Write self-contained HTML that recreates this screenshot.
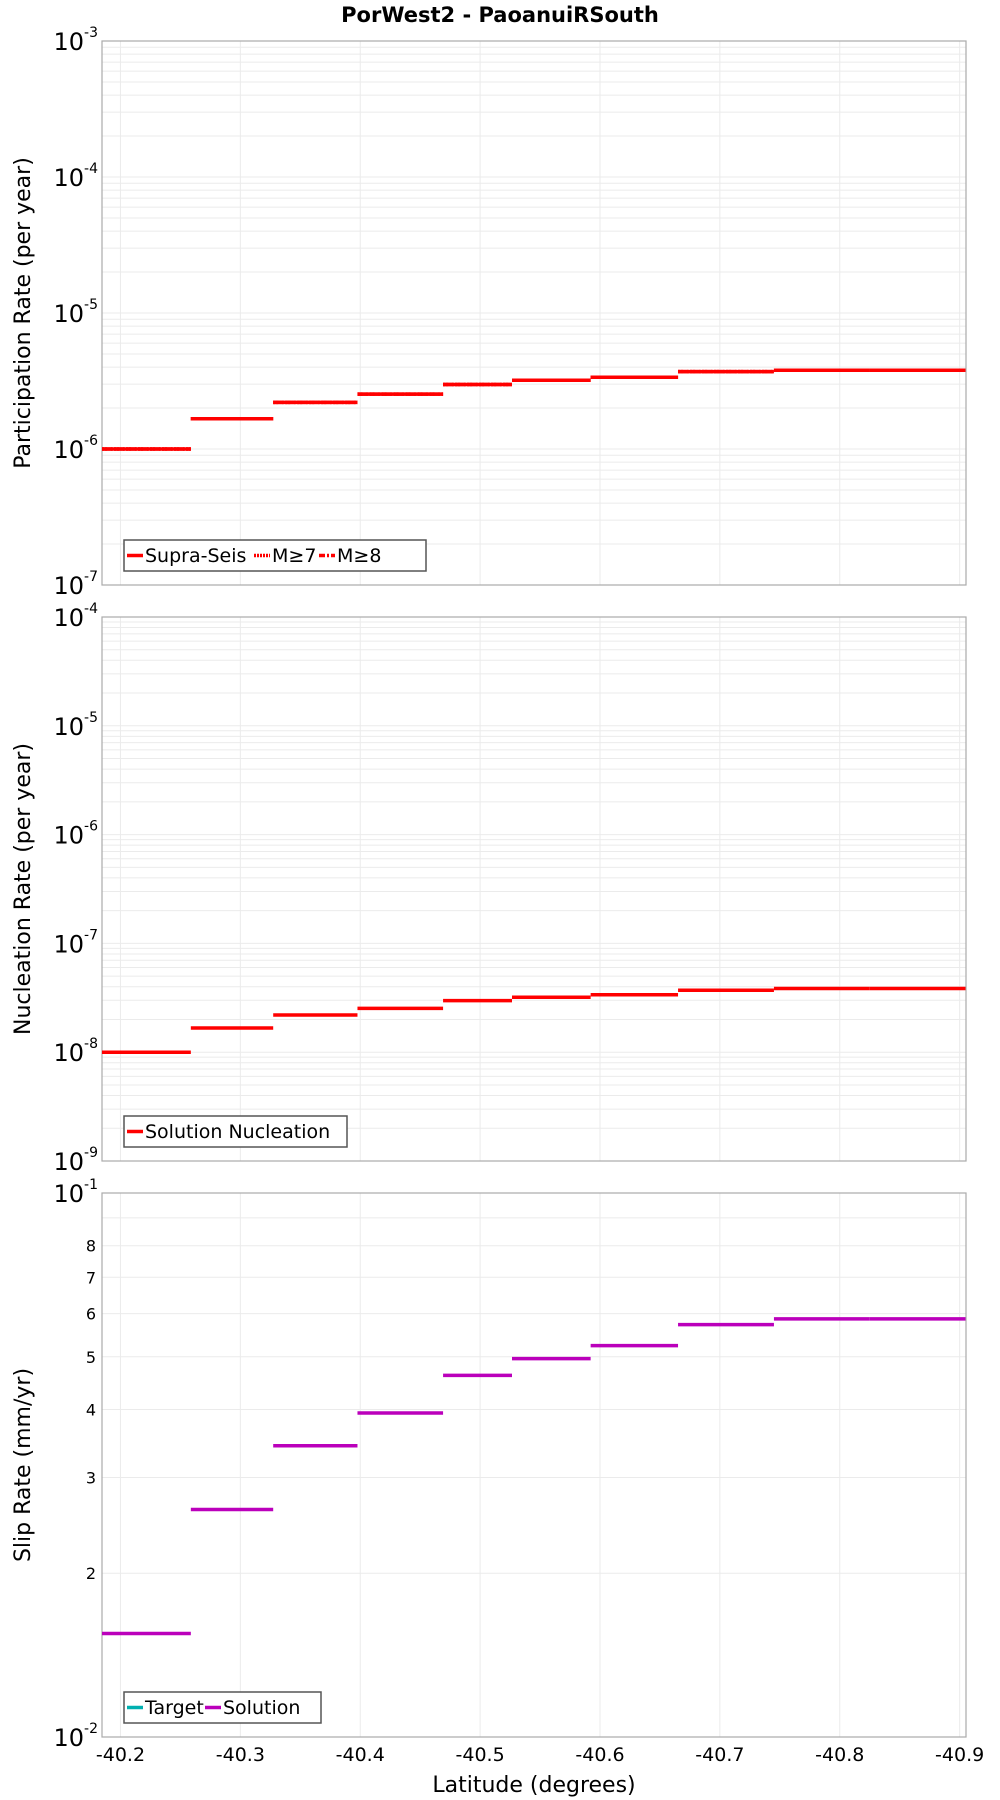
<!DOCTYPE html>
<html><head><meta charset="utf-8"><style>
html,body{margin:0;padding:0;background:#fff;}
svg{display:block;font-family:"DejaVu Sans","Liberation Sans",sans-serif;}
</style></head><body>
<svg id="chart" width="1000" height="1800" viewBox="0 0 1000 1800" xmlns="http://www.w3.org/2000/svg">
<text x="500" y="22" text-anchor="middle" font-size="21" font-weight="bold">PorWest2 - PaoanuiRSouth</text>
<g id="g"></g>
<text x="534" y="1792" text-anchor="middle" font-size="22">Latitude (degrees)</text>
</svg>
<script>
// bin boundaries (latitude)
const binEdges = [-40.1846, -40.2587, -40.3274, -40.3977, -40.4691, -40.5266, -40.5922, -40.6651, -40.7451, -40.8250, -40.9049];
const xTicks = [-40.2, -40.3, -40.4, -40.5, -40.6, -40.7, -40.8, -40.9];
const xTickLabels = ["-40.2", "-40.3", "-40.4", "-40.5", "-40.6", "-40.7", "-40.8", "-40.9"];
const supraSeis = [1.0e-6, 1.67e-6, 2.2e-6, 2.53e-6, 2.98e-6, 3.2e-6, 3.37e-6, 3.71e-6, 3.79e-6, 3.79e-6];
const m7 = [1.0e-6, 1.67e-6, 2.2e-6, 2.53e-6, 2.98e-6, 3.2e-6, 3.37e-6, 3.71e-6, 3.79e-6, 3.79e-6];
const m8 = [1.0e-6, 1.67e-6, 2.2e-6, 2.53e-6, 2.98e-6, 3.2e-6, 3.37e-6, 3.71e-6, 3.79e-6, 3.79e-6];
const nucleation = [1.0e-8, 1.67e-8, 2.2e-8, 2.53e-8, 2.98e-8, 3.2e-8, 3.37e-8, 3.71e-8, 3.85e-8, 3.85e-8];
const slipSolution = [0.0155, 0.0262, 0.0343, 0.0394, 0.0462, 0.0496, 0.0524, 0.0573, 0.0587, 0.0587];
const slipMinorLabels = ["2","3","4","5","6","7","8"];

const NS = "http://www.w3.org/2000/svg";
const G = document.getElementById('g');
const L = 102, R = 966, XMIN = -40.1846, XMAX = -40.9053;
function xs(lat){ return L + (lat - XMIN) / (XMAX - XMIN) * (R - L); }
function mk(tag, attrs, parent){ const e = document.createElementNS(NS, tag); for (const k in attrs) e.setAttribute(k, attrs[k]); (parent||G).appendChild(e); return e; }

function panel(top, bot, e0, e1, title, key){
  const ys = v => bot - (Math.log10(v) - e0) / (e1 - e0) * (bot - top);
  const grp = mk('g', {});
  
  
  // minor/major horizontal gridlines
  for (let e = e0; e < e1; e++) {
    for (let m = 1; m <= 9; m++) {
      const y = ys(m * Math.pow(10, e));
      const ln = mk('line', {x1:L, x2:R, y1:y, y2:y, stroke:'#ebebeb', 'stroke-width':1}, grp);
      
      
    }
  }
  xTicks.forEach(t => {
    const x = xs(t);
    const ln = mk('line', {x1:x, x2:x, y1:top, y2:bot, stroke:'#ebebeb', 'stroke-width':1}, grp);
    
    
  });
  const fr = mk('rect', {x:L, y:top, width:R-L, height:bot-top, fill:'none', stroke:'#aaaaaa', 'stroke-width':1.2}, grp);
  
  
  // decade labels
  for (let e = e0; e <= e1; e++) {
    const y = ys(Math.pow(10, e));
    const t = mk('text', {x:L-4, y:y+9, 'text-anchor':'end', 'font-size':24}, grp);
    
    
    t.textContent = '10';
    const s = mk('tspan', {'font-size':14, dy:-13}, t);
    s.textContent = String(e);
  }
  const tx = 30, ty = (top + bot) / 2;
  const at = mk('text', {x:tx, y:ty, 'text-anchor':'middle', 'font-size':22, transform:'rotate(-90 '+tx+' '+ty+')'}, grp);
  
  
  at.textContent = title;
  return {ys, grp};
}

function steps(p, vals, color, dash, name){
  vals.forEach((v, i) => {
    const y = p.ys(v);
    const a = {x1:xs(binEdges[i]), x2:xs(binEdges[i+1]), y1:y, y2:y, stroke:color, 'stroke-width':3.5};
    if (dash) a['stroke-dasharray'] = dash;
    const ln = mk('line', a, p.grp);
    
    
  });
}

function legend(x, y, w, items){
  const lg = mk('g', {});
  
  
  const r = mk('rect', {x:x, y:y, width:w, height:31, fill:'#fff', stroke:'#555', 'stroke-width':1.5}, lg);
  
  
  let cx = x + 3;
  items.forEach(it => {
    const a = {x1:cx, x2:cx+16, y1:y+15.5, y2:y+15.5, stroke:it.c, 'stroke-width':3.5};
    if (it.d) a['stroke-dasharray'] = it.d;
    const ln = mk('line', a, lg);
    
    
    const t = mk('text', {x:cx+18, y:y+22, 'font-size':19}, lg);
    
    
    t.textContent = it.t;
    cx += 18 + it.w;
  });
}

// Panel 1
const p1 = panel(41, 585, -7, -3, 'Participation Rate (per year)', 'participation');
steps(p1, supraSeis, '#ff0000', null, 'supra-seis');
steps(p1, m7, '#ff0000', '2 1', 'm7');
steps(p1, m8, '#ff0000', '6 2 2 2', 'm8');
legend(124, 540, 302, [{t:'Supra-Seis', c:'#f00', w:109},{t:'M≥7', c:'#f00', d:'2 1', w:47},{t:'M≥8', c:'#f00', d:'6 2 2 2', w:45}]);

// Panel 2
const p2 = panel(617, 1161, -9, -4, 'Nucleation Rate (per year)', 'nucleation');
steps(p2, nucleation, '#ff0000', null, 'solution-nucleation');
legend(124, 1116, 223, [{t:'Solution Nucleation', c:'#f00', w:200}]);

// Panel 3
const p3 = panel(1193, 1737, -2, -1, 'Slip Rate (mm/yr)', 'slip-rate');
slipMinorLabels.forEach((lb, i) => {
  const y = p3.ys((i + 2) / 100);
  const t = mk('text', {x:L-6, y:y+6, 'text-anchor':'end', 'font-size':16}, p3.grp);
  
  
  t.textContent = lb;
});
steps(p3, slipSolution, '#bb00bb', null, 'slip-solution');
legend(124, 1692, 197, [{t:'Target', c:'#00b0b0', w:60},{t:'Solution', c:'#bb00bb', w:90}]);

// X tick labels
xTicks.forEach((t, i) => {
  const tl = mk('text', {x:xs(t), y:1761, 'text-anchor':'middle', 'font-size':19});
  
  
  tl.textContent = xTickLabels[i];
});
</script>
</body></html>
